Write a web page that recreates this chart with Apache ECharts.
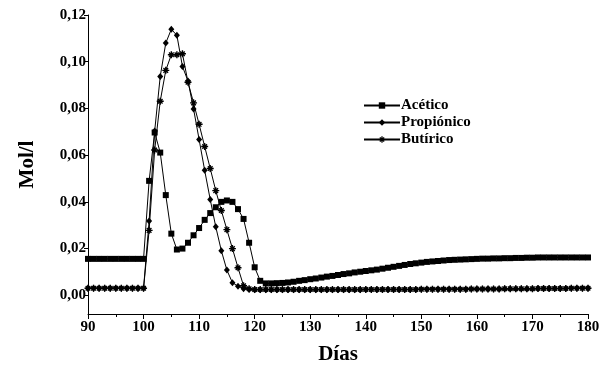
<!DOCTYPE html>
<html>
<head>
<meta charset="utf-8">
<script src="https://cdn.jsdelivr.net/npm/echarts@6/dist/echarts.min.js"></script>
<style>html,body{margin:0;padding:0;background:#fff}#c{width:603px;height:370px}</style>
</head>
<body>
<div id="c"></div>
<script>
// Days 90..180
const days = [];
for (let d = 90; d <= 180; d++) days.push(d);

const acetico = [
  0.0156,0.0156,0.0156,0.0156,0.0156,0.0156,0.0156,0.0156,0.0156,0.0156,0.0156,
  0.0490,0.0697,0.0611,0.0429,0.0264,0.0196,0.0200,0.0225,0.0257,0.0288,
  0.0323,0.0352,0.0377,0.0400,0.0406,0.0400,0.0369,0.0327,0.0225,0.0120,
  0.0062,
  0.0051,0.0051,0.0052,0.0053,0.0055,0.0058,0.0062,0.0065,0.0069,
  0.0072,0.0076,0.0080,0.0083,0.0087,0.0091,0.0094,0.0098,0.0101,0.0104,
  0.0107,0.0110,0.0114,0.0118,0.0122,0.0126,0.0130,0.0134,0.0137,0.0140,
  0.0143,0.0145,0.0147,0.0149,0.0151,0.0152,0.0153,0.0154,0.0155,0.0156,
  0.0157,0.0157,0.0158,0.0158,0.0159,0.0159,0.0160,0.0160,0.0161,0.0161,
  0.0162,0.0162,0.0162,0.0162,0.0162,0.0162,0.0162,0.0162,0.0162,0.0162
];

const propionico = [
  0.0030,0.0030,0.0030,0.0030,0.0030,0.0030,0.0030,0.0030,0.0030,0.0030,0.0030,
  0.0318,0.0703,0.0937,0.1080,0.1139,0.1113,0.0980,0.0917,0.0798,0.0667,
  0.0535,0.0410,0.0293,0.0191,0.0108,0.0054,0.0039,0.0028,0.0025,0.0024,
  0.0024,
  0.0024,0.0024,0.0024,0.0024,0.0024,0.0024,0.0024,0.0024,0.0024,
  0.0024,0.0024,0.0024,0.0024,0.0024,0.0024,0.0024,0.0024,0.0024,0.0025,
  0.0025,0.0025,0.0025,0.0025,0.0025,0.0025,0.0025,0.0025,0.0025,0.0026,
  0.0026,0.0026,0.0026,0.0026,0.0026,0.0026,0.0026,0.0026,0.0027,0.0027,
  0.0027,0.0027,0.0027,0.0027,0.0028,0.0028,0.0028,0.0028,0.0028,0.0028,
  0.0029,0.0029,0.0029,0.0029,0.0029,0.0029,0.0030,0.0030,0.0030,0.0030
];

const butirico = [
  0.0030,0.0030,0.0030,0.0030,0.0030,0.0030,0.0030,0.0030,0.0030,0.0030,0.0030,
  0.0278,0.0622,0.0831,0.0963,0.1030,0.1030,0.1034,0.0912,0.0824,0.0732,
  0.0637,0.0543,0.0448,0.0363,0.0281,0.0200,0.0118,0.0041,0.0028,0.0025,
  0.0025,
  0.0025,0.0025,0.0025,0.0025,0.0025,0.0025,0.0025,0.0025,0.0025,
  0.0025,0.0025,0.0025,0.0025,0.0025,0.0025,0.0025,0.0025,0.0025,0.0025,
  0.0025,0.0025,0.0025,0.0025,0.0025,0.0025,0.0025,0.0025,0.0025,0.0026,
  0.0026,0.0026,0.0026,0.0026,0.0026,0.0026,0.0026,0.0026,0.0027,0.0027,
  0.0027,0.0027,0.0027,0.0027,0.0028,0.0028,0.0028,0.0028,0.0028,0.0028,
  0.0029,0.0029,0.0029,0.0029,0.0029,0.0029,0.0030,0.0030,0.0030,0.0030
];

const yTicks = [0, 0.02, 0.04, 0.06, 0.08, 0.10, 0.12];
const xTicks = [90, 100, 110, 120, 130, 140, 150, 160, 170, 180];

const FONT = 'Liberation Serif';
const starPath = 'path://M0,4L10,4L10,6L0,6Z M4,0L6,0L6,10L4,10Z M2.4,1L9,7.6L7.6,9L1,2.4Z M7.6,1L9,2.4L2.4,9L1,7.6Z';

function pairs(arr) { return days.map((d, i) => [d, arr[i]]); }

const chart = echarts.init(document.getElementById('c'), null, {renderer: 'canvas'});
chart.setOption({
  animation: false,
  backgroundColor: '#fff',
  grid: {left: 88, right: 15, top: 15, bottom: 54, containLabel: false},
  legend: {
    orient: 'vertical',
    left: 358, top: 93,
    itemWidth: 36, itemHeight: 8, itemGap: 2,
    textStyle: {fontFamily: FONT, fontWeight: 'bold', fontSize: 15, color: '#000', padding: [0,0,0,-4], lineHeight: 15},
    data: ['Acético', 'Propiónico', 'Butírico']
  },
  xAxis: {
    type: 'value', min: 90, max: 180, interval: 10,
    name: 'Días', nameLocation: 'middle', nameGap: 30,
    nameTextStyle: {fontFamily: FONT, fontWeight: 'bold', fontSize: 21, color: '#000'},
    axisLine: {show: true, onZero: false, lineStyle: {color: '#000', width: 1}},
    axisTick: {show: true, length: 5, lineStyle: {color: '#000'}},
    minorTick: {show: true, splitNumber: 2, length: 3, lineStyle: {color: '#000'}},
    axisLabel: {fontFamily: FONT, fontWeight: 'bold', fontSize: 15, color: '#000', margin: 6, customValues: xTicks},
    splitLine: {show: false}
  },
  yAxis: {
    type: 'value', min: -0.008, max: 0.12,
    name: 'Mol/l', nameLocation: 'middle', nameGap: 50, nameRotate: 90,
    nameTextStyle: {fontFamily: FONT, fontWeight: 'bold', fontSize: 21, color: '#000'},
    axisLine: {show: true, onZero: false, lineStyle: {color: '#000', width: 1}},
    axisTick: {show: true, length: 4, lineStyle: {color: '#000'}, customValues: yTicks},
    axisLabel: {fontFamily: FONT, fontWeight: 'bold', fontSize: 15, color: '#000', margin: 2,
      customValues: yTicks,
      formatter: v => v.toFixed(2).replace('.', ',')},
    splitLine: {show: false}
  },
  series: [
    {name: 'Acético', type: 'line', data: pairs(acetico), symbol: 'rect', symbolSize: 6,
     lineStyle: {color: '#000', width: 1}, itemStyle: {color: '#000'}},
    {name: 'Propiónico', type: 'line', data: pairs(propionico), symbol: 'diamond', symbolSize: [6, 7],
     lineStyle: {color: '#000', width: 1}, itemStyle: {color: '#000'}},
    {name: 'Butírico', type: 'line', data: pairs(butirico), symbol: starPath, symbolSize: 7,
     lineStyle: {color: '#000', width: 1}, itemStyle: {color: '#000'}}
  ]
});
</script>
</body>
</html>
